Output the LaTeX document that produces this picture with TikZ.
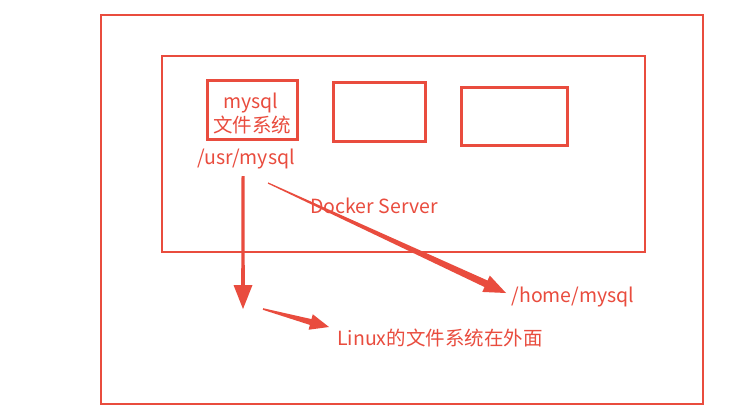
\documentclass[tikz,border=0pt]{standalone}
\usepackage{fontspec}
\newfontfamily\cjk{Noto Sans CJK SC}
\usetikzlibrary{calc}
\definecolor{dred}{RGB}{233,76,62}
\tikzset{
  frame/.style={draw=dred,line width=2.8pt},
  cbox/.style={draw=dred,line width=3pt,inner sep=0pt},
  lbl/.style={text=dred,font=\cjk\fontsize{19.5}{23}\selectfont,inner sep=0pt},
}
\newcommand{\taparrow}[7]{% start, end, w0, w1, headlen, headhalf
  \fill[dred] ($(#1)!#3!90:(#2)$) -- ($($(#2)!#5!(#1)$)!#4!-90:(#1)$) -- ($($(#2)!#5!(#1)$)!#6!-90:(#1)$) -- (#2) -- ($($(#2)!#5!(#1)$)!#6!90:(#1)$) -- ($($(#2)!#5!(#1)$)!#4!90:(#1)$) -- ($(#1)!#3!-90:(#2)$) -- cycle;}
\begin{document}
\begin{tikzpicture}[x=1pt,y=-1pt]
\useasboundingbox[fill=white] (0,0) rectangle (751,412);
\draw[frame] (101,15) rectangle (703,404);
\draw[frame] (162,56) rectangle (645,252);
\node[cbox,minimum width=90pt,minimum height=59pt] (b1) at (252,110) {};
\node[lbl] (b1a) at (251,103) {mysql};
\node[lbl] (b1b) at (252,125) {文件系统};
\node[cbox,minimum width=92pt,minimum height=59pt] (b2) at (379,112) {};
\node[cbox,minimum width=106pt,minimum height=58pt] (b3) at (514,116) {};
\node[lbl] (usr) at (246,159) {/usr/mysql};
\node[lbl] (docker) at (374,206) {Docker Server};
\node[lbl] (home) at (573,297) {/home/mysql};
\node[lbl] (linux) at (440,338) {Linux的文件系统在外面};
\coordinate (v0) at (243,176);
\coordinate (v1) at (243,309);
\coordinate (d0) at (268,183);
\coordinate (d1) at (506,293);
\coordinate (t0) at (263,309);
\coordinate (t1) at (329,327);
\taparrow{v0}{v1}{1.5pt}{1.8pt}{24pt}{9.5pt}{}
\taparrow{d0}{d1}{0.6pt}{3.6pt}{22pt}{9pt}{}
\taparrow{t0}{t1}{0.8pt}{3pt}{19pt}{8pt}{}
\end{tikzpicture}
\end{document}
